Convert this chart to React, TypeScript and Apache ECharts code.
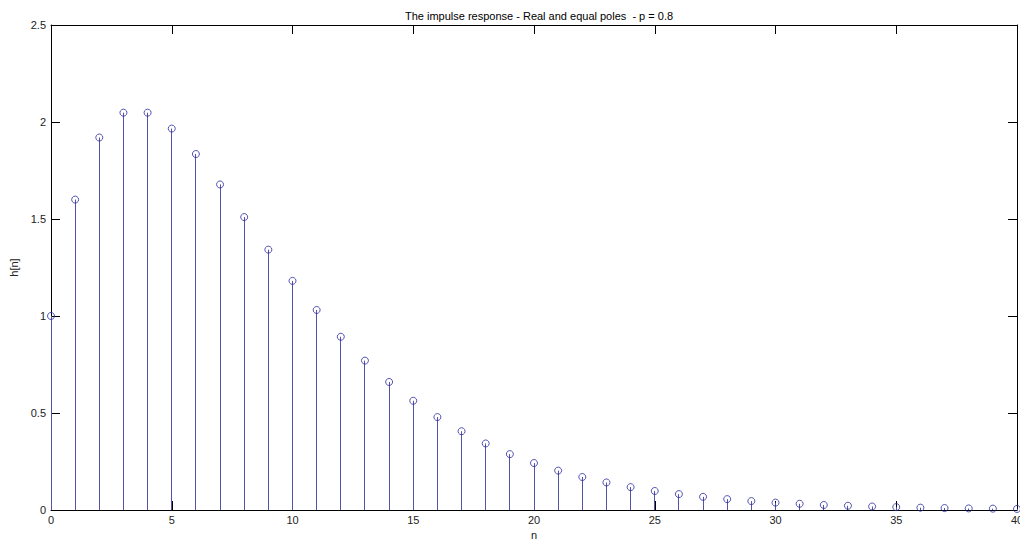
import React, { useEffect, useRef } from "react";
import * as echarts from "echarts";

const n: number[] = [
  0, 1, 2, 3, 4, 5, 6, 7, 8, 9, 10, 11, 12, 13, 14, 15, 16, 17, 18, 19, 20,
  21, 22, 23, 24, 25, 26, 27, 28, 29, 30, 31, 32, 33, 34, 35, 36, 37, 38, 39, 40,
];
const h: number[] = [
  1.0, 1.6, 1.92, 2.048, 2.048, 1.966, 1.835, 1.678, 1.51, 1.342, 1.181,
  1.031, 0.893, 0.77, 0.66, 0.563, 0.479, 0.406, 0.343, 0.288, 0.242,
  0.203, 0.17, 0.142, 0.118, 0.098, 0.082, 0.068, 0.056, 0.046, 0.038,
  0.032, 0.026, 0.022, 0.018, 0.015, 0.012, 0.01, 0.008, 0.007, 0.0055,
];
const xTicks = { min: 0, max: 40, interval: 5 };
const yTicks = { min: 0, max: 2.5, interval: 0.5 };
const titleText = "The impulse response - Real and equal poles  - p = 0.8";
const xName = "n";
const yName = "h[n]";

const FONT = "Liberation Sans, Arial, sans-serif";
const STEM = "#5252a6";
const MARK = "#2a2aa0";

export default function App() {
  const ref = useRef<HTMLDivElement>(null);
  useEffect(() => {
    document.body.style.margin = "0";
    const chart = echarts.init(ref.current!, undefined, { renderer: "svg" });
    const pts = n.map((x, i) => [x, h[i]]);
    const axisCommon = {
      axisLine: { show: true, onZero: false, lineStyle: { color: "#000", width: 1 } },
      axisTick: { show: true, inside: true, length: 9, lineStyle: { color: "#000" } },
      splitLine: { show: false },
    };
    chart.setOption({
      animation: false,
      backgroundColor: "#fff",
      title: {
        text: titleText,
        left: 534,
        textAlign: "center",
        top: 5,
        textStyle: { fontFamily: FONT, fontSize: 11, fontWeight: "normal", color: "#000" },
      },
      grid: {
        left: 51,
        right: 3,
        top: 25,
        bottom: 33,
        containLabel: false,
        outerBoundsMode: "none",
      },
      xAxis: [
        {
          type: "value",
          ...xTicks,
          position: "bottom",
          ...axisCommon,
          axisLabel: { color: "#222", fontFamily: FONT, fontSize: 11, margin: 4 },
          name: xName,
          nameLocation: "middle",
          nameGap: 17,
          nameTextStyle: { color: "#222", fontFamily: FONT, fontSize: 11 },
        },
        {
          type: "value",
          ...xTicks,
          position: "top",
          ...axisCommon,
          axisLabel: { show: false },
        },
      ],
      yAxis: [
        {
          type: "value",
          ...yTicks,
          position: "left",
          ...axisCommon,
          axisLabel: { color: "#222", fontFamily: FONT, fontSize: 11, margin: 5 },
          name: yName,
          nameLocation: "middle",
          nameGap: 32,
          nameTextStyle: { color: "#222", fontFamily: FONT, fontSize: 11 },
        },
        {
          type: "value",
          ...yTicks,
          position: "right",
          ...axisCommon,
          axisLabel: { show: false },
        },
      ],
      series: [
        {
          type: "custom",
          xAxisIndex: 0,
          yAxisIndex: 0,
          data: pts,
          silent: true,
          renderItem: (params: any, api: any) => {
            const p0 = api.coord([api.value(0), 0]);
            const p1 = api.coord([api.value(0), api.value(1)]);
            const x = Math.floor(p0[0]) + 0.5;
            return {
              type: "line",
              shape: { x1: x, y1: p0[1], x2: x, y2: p1[1] },
              style: { stroke: STEM, lineWidth: 1 },
            };
          },
          z: 2,
        },
        {
          type: "scatter",
          xAxisIndex: 0,
          yAxisIndex: 0,
          data: pts,
          symbol: "circle",
          symbolSize: 7,
          itemStyle: { color: "rgba(255,255,255,0)", borderColor: MARK, borderWidth: 1 },
          z: 3,
        },
      ],
    });
    return () => chart.dispose();
  }, []);
  return (
    <div
      ref={ref}
      style={{ position: "fixed", left: 0, top: 0, width: "100vw", height: "100vh" }}
    />
  );
}
